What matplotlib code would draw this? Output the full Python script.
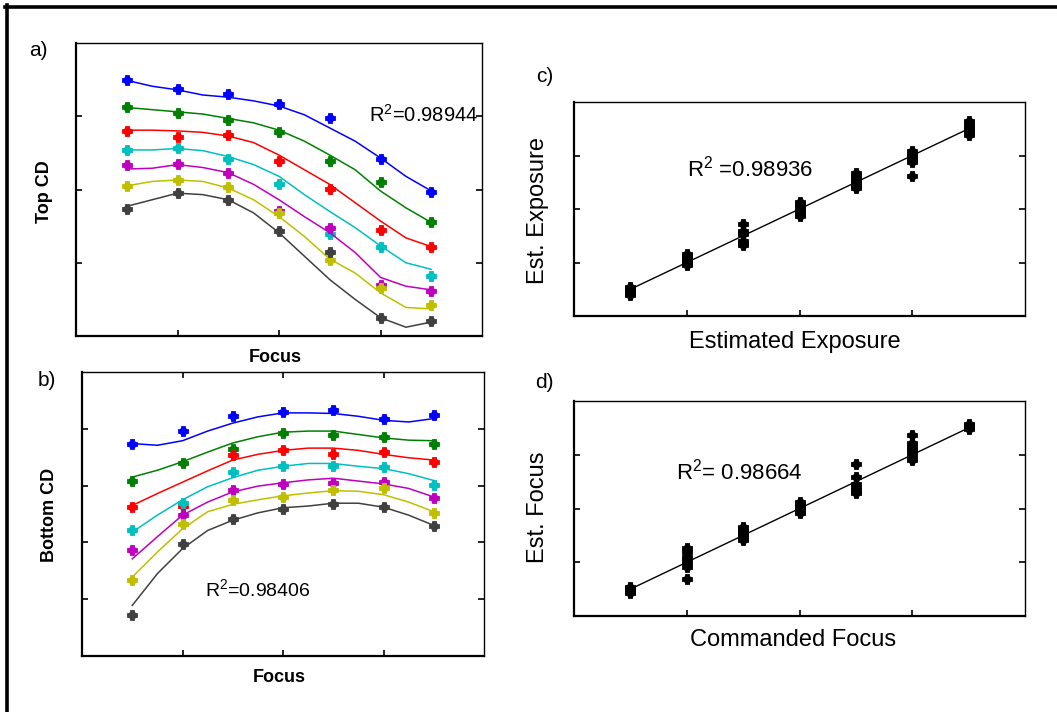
"""
Four-panel figure: CD vs focus fits (a, b) and estimated vs commanded
exposure / focus (c, d).
"""

import matplotlib
matplotlib.use('Agg')
import matplotlib.pyplot as plt
from matplotlib.lines import Line2D

plt.rcParams['font.family'] = ['Liberation Sans', 'DejaVu Sans']
plt.rcParams['mathtext.fontset'] = 'custom'
plt.rcParams['mathtext.rm'] = 'Liberation Sans'

W, H = 1057, 712

# ---- data -------------------------------------------------------------
focus = [0.5, 1.0, 1.5, 2.0, 2.5, 3.0, 3.5]
focus_fine = [0.5, 0.75, 1.0, 1.25, 1.5, 1.75, 2.0, 2.25, 2.5, 2.75, 3.0, 3.25, 3.5]

series_colors = ['#0000ff', '#008000', '#ff0000', '#00bfbf',
                 '#bf00bf', '#bfbf00', '#404040']

# panel a: top CD (measured points and fitted curves)
top_blue = [3.49, 3.37, 3.31, 3.17, 2.97, 2.41, 1.97]
top_green = [3.12, 3.04, 2.95, 2.79, 2.39, 2.10, 1.55]
top_red = [2.80, 2.71, 2.74, 2.39, 2.01, 1.45, 1.22]
top_cyan = [2.54, 2.56, 2.41, 2.08, 1.39, 1.22, 0.82]
top_magenta = [2.33, 2.35, 2.22, 1.70, 1.47, 0.69, 0.61]
top_yellow = [2.05, 2.13, 2.03, 1.68, 1.04, 0.65, 0.43]
top_dark = [1.74, 1.95, 1.86, 1.44, 1.14, 0.25, 0.21]

top_fit_blue = [3.49, 3.41, 3.36, 3.29, 3.26, 3.21, 3.14, 3.02, 2.84, 2.66, 2.43, 2.18, 1.98]
top_fit_green = [3.12, 3.09, 3.06, 3.03, 2.97, 2.91, 2.81, 2.66, 2.47, 2.27, 1.98, 1.75, 1.55]
top_fit_red = [2.81, 2.81, 2.80, 2.78, 2.73, 2.64, 2.47, 2.27, 2.07, 1.82, 1.57, 1.34, 1.22]
top_fit_cyan = [2.54, 2.54, 2.56, 2.53, 2.45, 2.34, 2.18, 1.93, 1.70, 1.48, 1.23, 1.00, 0.91]
top_fit_magenta = [2.28, 2.29, 2.34, 2.30, 2.23, 2.07, 1.86, 1.63, 1.41, 1.14, 0.80, 0.68, 0.63]
top_fit_yellow = [2.05, 2.11, 2.13, 2.11, 2.02, 1.86, 1.63, 1.36, 1.05, 0.86, 0.59, 0.39, 0.37]
top_fit_dark = [1.77, 1.86, 1.95, 1.93, 1.86, 1.68, 1.41, 1.09, 0.77, 0.50, 0.25, 0.12, 0.19]

# panel b: bottom CD
bot_blue = [3.74, 3.97, 4.22, 4.30, 4.33, 4.17, 4.25]
bot_green = [3.08, 3.39, 3.65, 3.93, 3.89, 3.86, 3.74]
bot_red = [2.62, 2.64, 3.53, 3.62, 3.56, 3.59, 3.42]
bot_cyan = [2.21, 2.69, 3.24, 3.34, 3.34, 3.33, 3.01]
bot_magenta = [1.86, 2.49, 2.93, 3.03, 3.05, 3.06, 2.78]
bot_yellow = [1.33, 2.32, 2.75, 2.80, 2.93, 2.96, 2.52]
bot_dark = [0.72, 1.97, 2.42, 2.59, 2.67, 2.62, 2.28]

bot_fit_blue = [3.74, 3.71, 3.79, 3.96, 4.10, 4.21, 4.28, 4.28, 4.27, 4.22, 4.15, 4.12, 4.18]
bot_fit_green = [3.15, 3.27, 3.42, 3.59, 3.75, 3.86, 3.94, 3.96, 3.96, 3.90, 3.84, 3.80, 3.79]
bot_fit_red = [2.65, 2.86, 3.06, 3.26, 3.45, 3.55, 3.62, 3.66, 3.66, 3.62, 3.55, 3.49, 3.45]
bot_fit_cyan = [2.18, 2.48, 2.75, 2.98, 3.14, 3.27, 3.34, 3.39, 3.39, 3.34, 3.30, 3.21, 3.09]
bot_fit_magenta = [1.71, 2.10, 2.48, 2.71, 2.89, 2.99, 3.05, 3.10, 3.13, 3.08, 3.03, 2.95, 2.80]
bot_fit_yellow = [1.39, 1.83, 2.24, 2.54, 2.67, 2.75, 2.82, 2.87, 2.91, 2.90, 2.84, 2.71, 2.54]
bot_fit_dark = [0.89, 1.45, 1.89, 2.21, 2.39, 2.52, 2.61, 2.64, 2.69, 2.69, 2.62, 2.48, 2.30]

top_points = [top_blue, top_green, top_red, top_cyan, top_magenta, top_yellow, top_dark]
top_fits = [top_fit_blue, top_fit_green, top_fit_red, top_fit_cyan,
            top_fit_magenta, top_fit_yellow, top_fit_dark]
bot_points = [bot_blue, bot_green, bot_red, bot_cyan, bot_magenta, bot_yellow, bot_dark]
bot_fits = [bot_fit_blue, bot_fit_green, bot_fit_red, bot_fit_cyan,
            bot_fit_magenta, bot_fit_yellow, bot_fit_dark]

# panel c: estimated exposure, one list per commanded exposure level
exposure_levels = [0.5, 1.0, 1.5, 2.0, 2.5, 3.0, 3.5]
est_exposure = [
    [0.54, 0.51, 0.49, 0.47, 0.45, 0.42, 0.39],
    [1.16, 1.12, 1.08, 1.05, 1.02, 0.98, 0.95],
    [1.72, 1.59, 1.55, 1.53, 1.40, 1.37, 1.33],
    [2.14, 2.10, 2.06, 2.00, 1.96, 1.91, 1.86],
    [2.67, 2.62, 2.58, 2.53, 2.48, 2.43, 2.39],
    [3.08, 3.03, 2.99, 2.95, 2.91, 2.87, 2.62],
    [3.65, 3.60, 3.56, 3.51, 3.47, 3.43, 3.39],
]

# panel d: estimated focus, one list per commanded focus level
focus_levels = [0.5, 1.0, 1.5, 2.0, 2.5, 3.0, 3.5]
est_focus = [
    [0.54, 0.52, 0.50, 0.48, 0.46, 0.44, 0.42],
    [1.26, 1.19, 1.10, 1.04, 0.97, 0.92, 0.68],
    [1.66, 1.62, 1.58, 1.54, 1.50, 1.45, 1.41],
    [2.12, 2.09, 2.06, 2.02, 1.98, 1.94, 1.91],
    [2.82, 2.58, 2.46, 2.40, 2.35, 2.31, 2.28],
    [3.36, 3.22, 3.15, 3.10, 3.05, 2.97, 2.90],
    [3.57, 3.55, 3.53, 3.52, 3.50, 3.49, 3.48],
]

r2_top = 'R$^{2}$=0.98944'
r2_bottom = 'R$^{2}$=0.98406'
r2_exposure = 'R$^{2}$ =0.98936'
r2_focus = 'R$^{2}$= 0.98664'


def px_axes(fig, x0, y0, x1, y1):
    """Add axes from pixel box (top-left origin)."""
    return fig.add_axes([x0 / W, 1 - y1 / H, (x1 - x0) / W, (y1 - y0) / H])


def px_text(fig, x, y, s, **kw):
    kw.setdefault('ha', 'center')
    kw.setdefault('va', 'center')
    return fig.text(x / W, 1 - y / H, s, **kw)


def plot_markers(ax, x, y, color):
    # bold plus drawn over a small dot, like the scanned MATLAB markers
    ax.plot(x, y, linestyle='none', marker='o', ms=5, color=color, mec=color)
    ax.plot(x, y, linestyle='none', marker='P', ms=6.8, color=color, mec=color,
            mew=0.6)


def style_axes(ax, ylim, yticks, top_ticks=False):
    ax.set_xlim(0, 4)
    ax.set_ylim(*ylim)
    ax.set_xticks([1, 2, 3])
    ax.set_yticks(yticks)
    ax.set_xticklabels([])
    ax.set_yticklabels([])
    ax.tick_params(direction='in', length=4.5, width=1.2, color='black',
                   right=True, top=top_ticks)
    for side, sp in ax.spines.items():
        sp.set_linewidth(1.6 if side in ('bottom', 'left') else 1.0)
        sp.set_color('black')


fig = plt.figure(figsize=(W / 100, H / 100), dpi=100)
fig.patch.set_facecolor('white')

# outer frame (top and left only, as in the scan)
fig.add_artist(Line2D([5 / W, 1], [1 - 6.5 / H, 1 - 6.5 / H], color='black',
                      lw=2.6, transform=fig.transFigure))
fig.add_artist(Line2D([7 / W, 7 / W], [0, 1 - 5 / H], color='black',
                      lw=2.6, transform=fig.transFigure))

# ---- panel a ----------------------------------------------------------
ax_a = px_axes(fig, 76, 43, 482, 336)
for pts, fit, c in zip(top_points, top_fits, series_colors):
    ax_a.plot(focus_fine, fit, color=c, lw=1.1)
    plot_markers(ax_a, focus, pts, c)
style_axes(ax_a, (0, 4), [1, 2, 3])
px_text(fig, 38, 50, 'a)', fontsize=15)
px_text(fig, 44, 192, 'Top CD', fontsize=13, fontweight='bold', rotation=90)
px_text(fig, 275, 358, 'Focus', fontsize=13, fontweight='bold')
px_text(fig, 424, 115, r2_top, fontsize=14.5)

# ---- panel b ----------------------------------------------------------
ax_b = px_axes(fig, 82, 372, 484, 656)
for pts, fit, c in zip(bot_points, bot_fits, series_colors):
    ax_b.plot(focus_fine, fit, color=c, lw=1.1)
    plot_markers(ax_b, focus, pts, c)
style_axes(ax_b, (0, 5), [1, 2, 3, 4], top_ticks=True)
px_text(fig, 47, 380, 'b)', fontsize=15)
px_text(fig, 49, 515, 'Bottom CD', fontsize=13, fontweight='bold', rotation=90)
px_text(fig, 279, 677, 'Focus', fontsize=13, fontweight='bold')
px_text(fig, 258, 590, r2_bottom, fontsize=14)

# ---- panel c ----------------------------------------------------------
ax_c = px_axes(fig, 574, 102, 1025, 316)
ax_c.plot([exposure_levels[0], exposure_levels[-1]],
          [exposure_levels[0], exposure_levels[-1]], color='black', lw=1.0)
for lvl, vals in zip(exposure_levels, est_exposure):
    plot_markers(ax_c, [lvl] * len(vals), vals, 'black')
style_axes(ax_c, (0, 4), [1, 2, 3])
px_text(fig, 545, 77, 'c)', fontsize=15)
px_text(fig, 538, 211, 'Est. Exposure', fontsize=17, rotation=90)
px_text(fig, 795, 342, 'Estimated Exposure', fontsize=17)
px_text(fig, 750, 169, r2_exposure, fontsize=16)

# ---- panel d ----------------------------------------------------------
ax_d = px_axes(fig, 574, 401, 1025, 616)
ax_d.plot([focus_levels[0], focus_levels[-1]],
          [focus_levels[0], focus_levels[-1]], color='black', lw=1.0)
for lvl, vals in zip(focus_levels, est_focus):
    plot_markers(ax_d, [lvl] * len(vals), vals, 'black')
style_axes(ax_d, (0, 4), [1, 2, 3])
px_text(fig, 544, 382, 'd)', fontsize=15)
px_text(fig, 538, 507, 'Est. Focus', fontsize=17, rotation=90)
px_text(fig, 793, 640, 'Commanded Focus', fontsize=17)
px_text(fig, 739, 472, r2_focus, fontsize=16)

fig.savefig('out.png', dpi=100, facecolor='white')
